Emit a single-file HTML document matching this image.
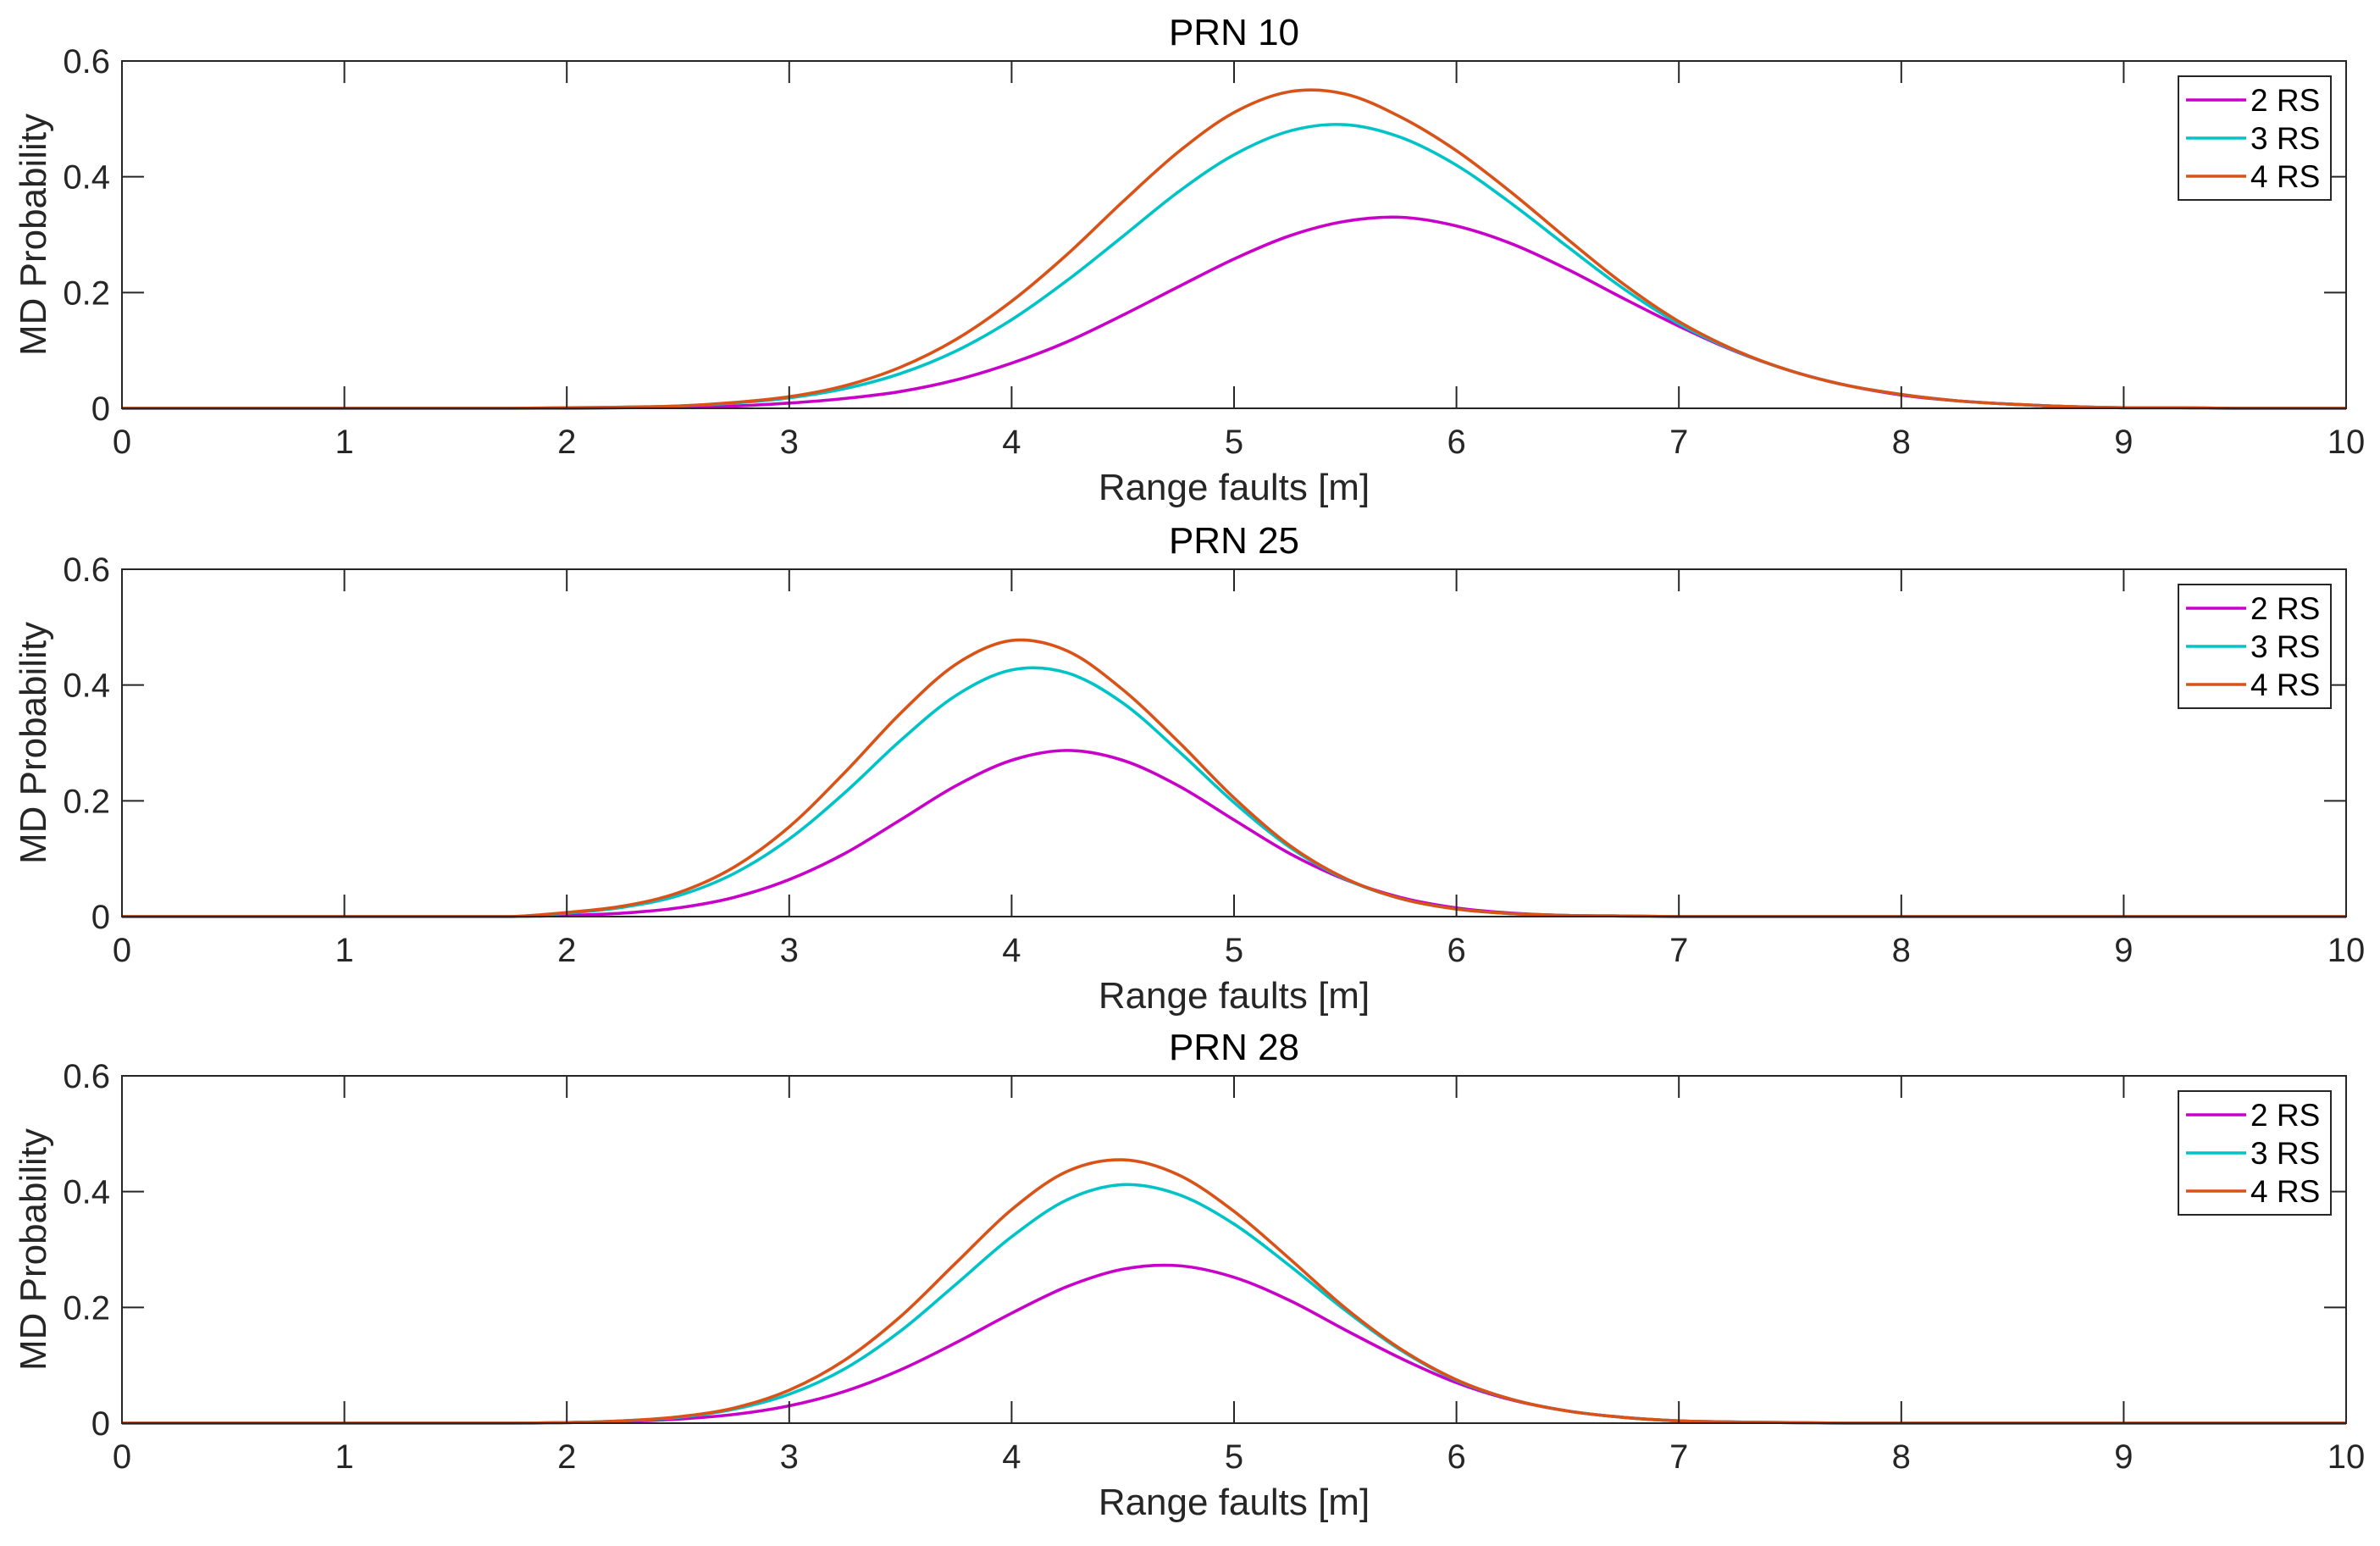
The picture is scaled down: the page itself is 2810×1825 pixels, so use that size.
<!DOCTYPE html>
<html><head><meta charset="utf-8"><style>
html,body{margin:0;padding:0;background:#fff;}
svg{display:block;font-family:"Liberation Sans",Arial,sans-serif;}
</style></head><body>
<svg id="fig" width="2810" height="1825" viewBox="0 0 2810 1825" xmlns="http://www.w3.org/2000/svg"></svg>
<script>
const xValues = [0,0.25,0.5,0.75,1,1.25,1.5,1.75,2,2.25,2.5,2.75,3,3.25,3.5,3.75,4,4.25,4.5,4.75,5,5.25,5.5,5.75,6,6.25,6.5,6.75,7,7.25,7.5,7.75,8,8.25,8.5,8.75,9,9.25,9.5,9.75,10];
const seriesNames = ["2 RS","3 RS","4 RS"];
const panelTitles = ["PRN 10","PRN 25","PRN 28"];
const xTicks = [0,1,2,3,4,5,6,7,8,9,10];
const yTicks = [0,0.2,0.4,0.6];
const yTickLabels = ["0","0.2","0.4","0.6"];
const prn10_2 = [0,0,0,0,0,0,0,0,0,0.001,0.002,0.004,0.009,0.017,0.029,0.049,0.078,0.115,0.161,0.210,0.258,0.298,0.323,0.330,0.315,0.284,0.240,0.190,0.142,0.099,0.065,0.040,0.023,0.013,0.007,0.003,0.001,0.001,0,0,0];
const prn10_3 = [0,0,0,0,0,0,0,0,0.001,0.002,0.004,0.009,0.018,0.034,0.060,0.099,0.153,0.221,0.297,0.374,0.438,0.479,0.490,0.468,0.420,0.353,0.279,0.207,0.146,0.100,0.065,0.040,0.024,0.013,0.007,0.003,0.001,0.001,0,0,0];
const prn10_4 = [0,0,0,0,0,0,0,0,0.001,0.002,0.004,0.010,0.020,0.039,0.071,0.119,0.185,0.266,0.357,0.443,0.511,0.547,0.543,0.503,0.445,0.372,0.292,0.215,0.150,0.101,0.065,0.040,0.024,0.013,0.007,0.003,0.001,0.001,0,0,0];
const prn25_2 = [0,0,0,0,0,0,0,0,0.002,0.006,0.015,0.033,0.064,0.109,0.167,0.226,0.270,0.287,0.270,0.226,0.167,0.109,0.064,0.033,0.015,0.006,0.002,0.001,0,0,0,0,0,0,0,0,0,0,0,0,0];
const prn25_3 = [0,0,0,0,0,0,0,0,0.006,0.016,0.036,0.074,0.134,0.214,0.304,0.382,0.426,0.421,0.369,0.286,0.197,0.120,0.065,0.031,0.013,0.005,0.002,0.001,0,0,0,0,0,0,0,0,0,0,0,0,0];
const prn25_4 = [0,0,0,0,0,0,0,0,0.007,0.018,0.041,0.085,0.155,0.249,0.351,0.436,0.477,0.459,0.392,0.302,0.205,0.123,0.066,0.031,0.013,0.005,0.002,0.001,0,0,0,0,0,0,0,0,0,0,0,0,0];
const prn28_2 = [0,0,0,0,0,0,0,0,0.001,0.003,0.007,0.015,0.030,0.055,0.092,0.139,0.190,0.236,0.266,0.272,0.252,0.212,0.161,0.112,0.070,0.040,0.021,0.010,0.004,0.002,0.001,0,0,0,0,0,0,0,0,0,0];
const prn28_3 = [0,0,0,0,0,0,0,0,0.001,0.004,0.010,0.024,0.050,0.094,0.159,0.240,0.322,0.386,0.412,0.395,0.344,0.272,0.195,0.126,0.074,0.041,0.021,0.010,0.004,0.002,0.001,0,0,0,0,0,0,0,0,0,0];
const prn28_4 = [0,0,0,0,0,0,0,0,0.001,0.004,0.011,0.026,0.057,0.109,0.184,0.277,0.369,0.435,0.455,0.429,0.366,0.284,0.199,0.128,0.075,0.041,0.021,0.010,0.004,0.002,0.001,0,0,0,0,0,0,0,0,0,0];
const panelData = [[prn10_2,prn10_3,prn10_4],[prn25_2,prn25_3,prn25_4],[prn28_2,prn28_3,prn28_4]];
const colors = ["#C800C8","#00C3C8","#D95319"];

const NS="http://www.w3.org/2000/svg";
const svg=document.getElementById('fig');
function mk(tag,attrs,parent){const e=document.createElementNS(NS,tag);for(const k in attrs)e.setAttribute(k,attrs[k]);(parent||svg).appendChild(e);return e;}
const L=144,R=2770,H=410,tops=[72,672,1270];
const xMin=0,xMax=10,yMin=0,yMax=0.6;
function sx(v){return L+(v-xMin)/(xMax-xMin)*(R-L);}
function smoothPath(pts){let d="M"+pts[0][0].toFixed(2)+","+pts[0][1].toFixed(2);
 for(let i=0;i<pts.length-1;i++){const p0=pts[Math.max(i-1,0)],p1=pts[i],p2=pts[i+1],p3=pts[Math.min(i+2,pts.length-1)];
  let c1y=p1[1]+(p2[1]-p0[1])/6,c2y=p2[1]-(p3[1]-p1[1])/6;
  const lo=Math.min(p1[1],p2[1]),hi=Math.max(p1[1],p2[1]);
  if(p1[1]===p2[1]){c1y=p1[1];c2y=p2[1];}
  d+=" C"+(p1[0]+(p2[0]-p0[0])/6).toFixed(2)+","+c1y.toFixed(2)+" "+(p2[0]-(p3[0]-p1[0])/6).toFixed(2)+","+c2y.toFixed(2)+" "+p2[0].toFixed(2)+","+p2[1].toFixed(2);}
 return d;}

panelTitles.forEach((title,pi)=>{
 const T=tops[pi],B=T+H;
 const sy=v=>B-(v-yMin)/(yMax-yMin)*H;
 const g=mk('g',{});
 
 
 const bg=mk('rect',{x:L,y:T,width:R-L,height:H,fill:'#fff'},g);
 
 
 // series
 panelData[pi].forEach((vals,si)=>{
  const pts=xValues.map((x,i)=>[sx(x),sy(Math.max(0,vals[i]))]);
  const p=mk('path',{d:smoothPath(pts),fill:'none',stroke:colors[si],'stroke-width':3.6,'stroke-linejoin':'round'},g);
  
  
 });
 // axes box
 const box=mk('rect',{x:L,y:T,width:R-L,height:H,fill:'none',stroke:'#262626','stroke-width':2},g);
 
 
 xTicks.forEach(v=>{
  const x=sx(v);
  mk('line',{x1:x,y1:B,x2:x,y2:B-26,stroke:'#262626','stroke-width':2},g);
  mk('line',{x1:x,y1:T,x2:x,y2:T+26,stroke:'#262626','stroke-width':2},g);
  const t=mk('text',{x:x,y:B+53,'text-anchor':'middle','font-size':40,fill:'#262626'},g);
  t.textContent=String(v);
  
  
 });
 yTicks.forEach((v,i)=>{
  const y=sy(v);
  mk('line',{x1:L,y1:y,x2:L+26,y2:y,stroke:'#262626','stroke-width':2},g);
  mk('line',{x1:R,y1:y,x2:R-26,y2:y,stroke:'#262626','stroke-width':2},g);
  const t=mk('text',{x:L-14,y:y+14,'text-anchor':'end','font-size':40,fill:'#262626'},g);
  t.textContent=yTickLabels[i];
  
  
 });
 const tt=mk('text',{x:(L+R)/2,y:T-19,'text-anchor':'middle','font-size':44,fill:'#000'},g);
 tt.textContent=title;
 
 
 const xl=mk('text',{x:(L+R)/2,y:B+108,'text-anchor':'middle','font-size':44,fill:'#262626'},g);
 xl.textContent='Range faults [m]';
 
 
 const yl=mk('text',{x:0,y:0,'text-anchor':'middle','font-size':44,fill:'#262626',transform:'translate(54,'+(T+H/2)+') rotate(-90)'},g);
 yl.textContent='MD Probability';
 
 
 // legend
 const lg=mk('g',{},g);
 
 
 mk('rect',{x:2572,y:T+18,width:180,height:146,fill:'#fff',stroke:'#262626','stroke-width':2},lg);
 seriesNames.forEach((n,si)=>{
  const y=T+46+si*45;
  const ln=mk('line',{x1:2581,y1:y,x2:2652,y2:y,stroke:colors[si],'stroke-width':3.6},lg);
  
  
  const t=mk('text',{x:2657,y:y+13,'font-size':37,fill:'#000'},lg);
  t.textContent=n;
  
  
 });
});
</script>
</body></html>
